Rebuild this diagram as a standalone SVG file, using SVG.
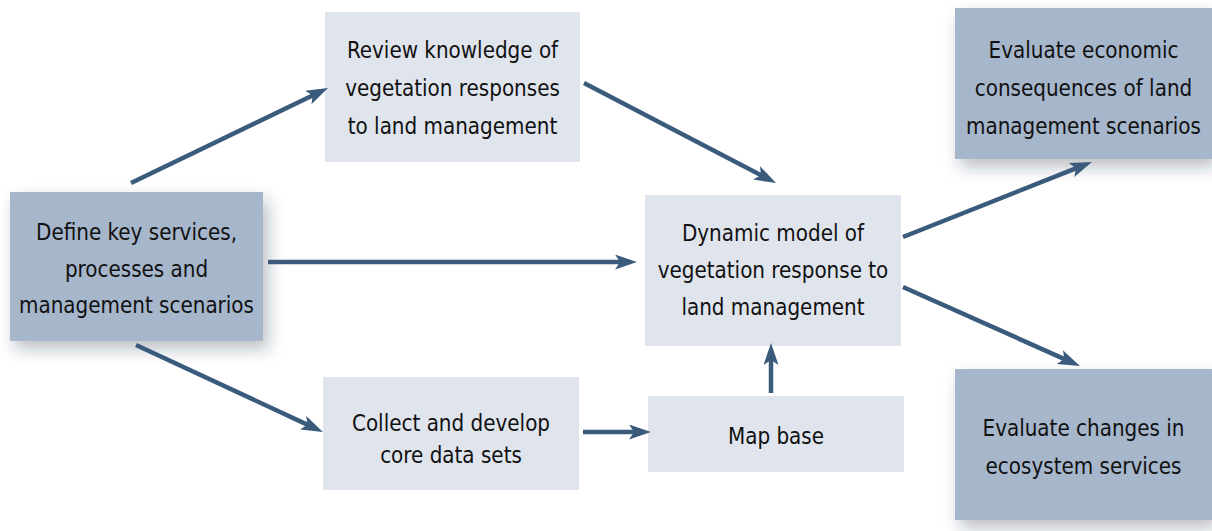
<svg xmlns="http://www.w3.org/2000/svg" width="1212" height="531" viewBox="0 0 1212 531">
<style>
.lt{fill:#dfe4ed}
.dk{fill:#a6b6cb}
text{font-family:"DejaVu Sans Condensed","DejaVu Sans",sans-serif;font-stretch:condensed;font-size:22.2px;fill:#111;text-anchor:middle}
.cn line{stroke:#3b5b7c;stroke-width:4.5;marker-end:url(#ah)}
</style>
<defs>
<filter id="sh" x="-20%" y="-20%" width="150%" height="150%">
<feDropShadow dx="5" dy="8" stdDeviation="8" flood-color="#1a2a40" flood-opacity="0.3"/>
</filter>
<marker id="ah" markerUnits="userSpaceOnUse" markerWidth="24" markerHeight="16" refX="10" refY="7.5" orient="auto">
<path d="M0,0 L22,7.5 L0,15 L5,7.5 Z" fill="#3b5b7c"/>
</marker>
</defs>
<rect width="1212" height="531" fill="#fff"/>
<g id="define">
<rect class="dk" x="10" y="192" width="253" height="149" filter="url(#sh)"/>
<text x="136.5" y="240">Define key services,</text>
<text x="136.5" y="277">processes and</text>
<text x="136.5" y="313">management scenarios</text>
</g>
<g id="review">
<rect class="lt" x="325" y="12" width="255" height="150"/>
<text x="452.5" y="58">Review knowledge of</text>
<text x="452.5" y="96">vegetation responses</text>
<text x="452.5" y="134">to land management</text>
</g>
<g id="dynamic">
<rect class="lt" x="645" y="195" width="256" height="151"/>
<text x="773" y="241">Dynamic model of</text>
<text x="773" y="278">vegetation response to</text>
<text x="773" y="315">land management</text>
</g>
<g id="collect">
<rect class="lt" x="323" y="377" width="256" height="113"/>
<text x="451" y="431">Collect and develop</text>
<text x="451" y="463">core data sets</text>
</g>
<g id="mapbase">
<rect class="lt" x="648" y="396" width="256" height="76"/>
<text x="776" y="444">Map base</text>
</g>
<g id="econ">
<rect class="dk" x="955" y="8" width="257" height="151" filter="url(#sh)"/>
<text x="1083.5" y="58">Evaluate economic</text>
<text x="1083.5" y="96">consequences of land</text>
<text x="1083.5" y="134">management scenarios</text>
</g>
<g id="changes">
<rect class="dk" x="955" y="369" width="257" height="151" filter="url(#sh)"/>
<text x="1083.5" y="436">Evaluate changes in</text>
<text x="1083.5" y="474">ecosystem services</text>
</g>
<g class="cn" id="connectors">
<line x1="131" y1="183" x2="317.2" y2="93.2"/>
<line x1="584" y1="83" x2="765.4" y2="177.5"/>
<line x1="268" y1="262" x2="625" y2="262"/>
<line x1="136" y1="345" x2="312.1" y2="426.9"/>
<line x1="583" y1="432" x2="639" y2="432"/>
<line x1="771" y1="393" x2="771" y2="355"/>
<line x1="903" y1="237" x2="1080.8" y2="166.4"/>
<line x1="903" y1="287" x2="1069" y2="361.1"/>
</g>
</svg>
